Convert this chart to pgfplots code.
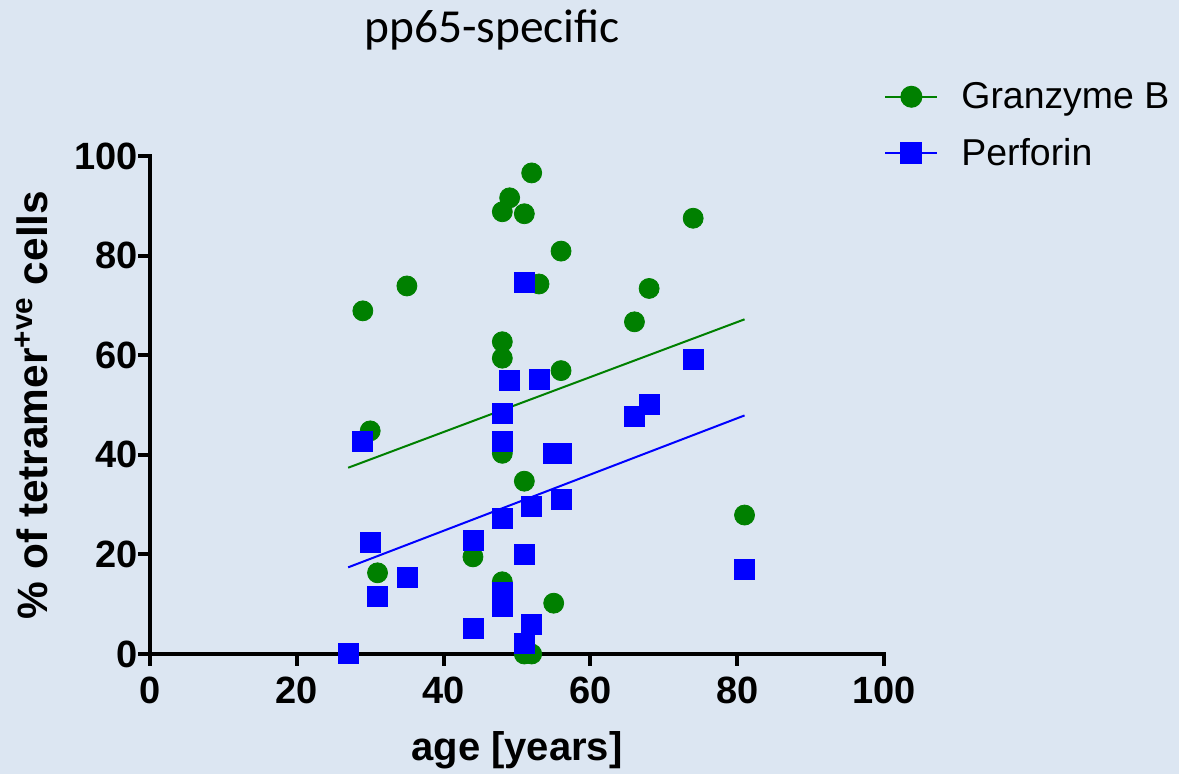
\documentclass[border=0pt]{standalone}
\usepackage{fontspec}
\setmainfont{Liberation Sans}
\newfontfamily\calibri{Carlito}
\usepackage{pgfplots}
\pgfplotsset{compat=1.18}
\definecolor{bg}{RGB}{220,230,242}
\definecolor{gz}{HTML}{008000}
\definecolor{pf}{HTML}{0000FF}

\begin{document}
\begin{tikzpicture}
\fill[bg] (0,0) rectangle (589.5pt,387pt);
\node[font=\calibri\fontsize{23.7}{28}\selectfont,anchor=base] at (246pt,365.5pt) {pp65-specific};
\begin{axis}[
  at={(75pt,60pt)},anchor=south west,
  scale only axis,width=367pt,height=249pt,
  xmin=0,xmax=100,ymin=0,ymax=100,
  xtick={0,20,...,100},ytick={0,20,...,100},
  axis x line*=bottom,axis y line*=left,
  axis line style={line width=2pt,line cap=rect},
  tick style={line width=2pt,black},
  tick align=outside,major tick length=6pt,
  /pgf/number format/assume math mode=true,
  ticklabel style={font=\bfseries\fontsize{19}{22}\selectfont},
  xticklabel style={yshift=-2pt},
  yticklabel style={xshift=3.5pt},
  xlabel={age [years]},
  ylabel={\% of tetramer\textsuperscript{+ve} cells},
  label style={font=\bfseries\fontsize{20}{24}\selectfont},
  xlabel style={at={(axis description cs:0.5,-0.213)},anchor=base},
  ylabel style={at={(axis description cs:-0.140,0.5)},anchor=base,font=\bfseries\fontsize{21.2}{24}\selectfont},
  clip=false,
  legend image code/.code={\draw[#1,mark repeat=2,mark phase=2] plot coordinates {(0pt,0pt) (13pt,0pt) (26pt,0pt)};},
  legend style={at={(1.0,1.157)},anchor=north west,draw=none,fill=none,
    font=\fontsize{18.7}{22}\selectfont,row sep=9.5pt,inner sep=0pt,
    /tikz/every odd column/.append style={column sep=9.5pt}},
  legend cell align=left,
]
\addlegendimage{gz,line width=1pt,mark=*,mark size=5pt}
\addlegendentry{Granzyme B}
\addlegendimage{pf,line width=1pt,mark=square*,mark size=5pt}
\addlegendentry{Perforin}

% regression lines
\addplot[gz,line width=1pt,forget plot] coordinates {(27,37.4) (81,67.2)};
\addplot[pf,line width=1pt,forget plot] coordinates {(27,17.4) (81,47.9)};

% Granzyme B
\addplot[only marks,mark=*,mark size=5pt,color=gz,forget plot] coordinates {
(29,68.9) (30,44.8) (31,16.3) (35,73.9) (44,19.5) (48,88.8) (49,91.6) (51,88.4)
(52,96.6) (48,62.7) (48,59.4) (48,40.3) (48,14.5) (51,34.7) (53,74.3) (56,80.9)
(56,56.9) (55,10.2) (51,0) (52,0) (66,66.7) (68,73.4) (74,87.5) (81,27.9)
};
% Perforin
\addplot[only marks,mark=square*,mark size=5pt,color=pf,forget plot] coordinates {
(27,0.1) (29,42.6) (30,22.5) (31,11.5) (35,15.3) (44,22.9) (44,5.2) (48,48.3)
(48,42.6) (48,27.2) (48,12.3) (48,9.6) (49,55.0) (51,74.7) (51,20.0) (51,2.1)
(52,29.7) (52,6.0) (53,55.2) (55,40.3) (56,40.3) (56,31.1) (66,47.8) (68,50.2)
(74,59.2) (81,16.9)
};
\end{axis}
\pgfresetboundingbox
\path[use as bounding box] (0,0) rectangle (589.5pt,387pt);
\end{tikzpicture}
\end{document}
